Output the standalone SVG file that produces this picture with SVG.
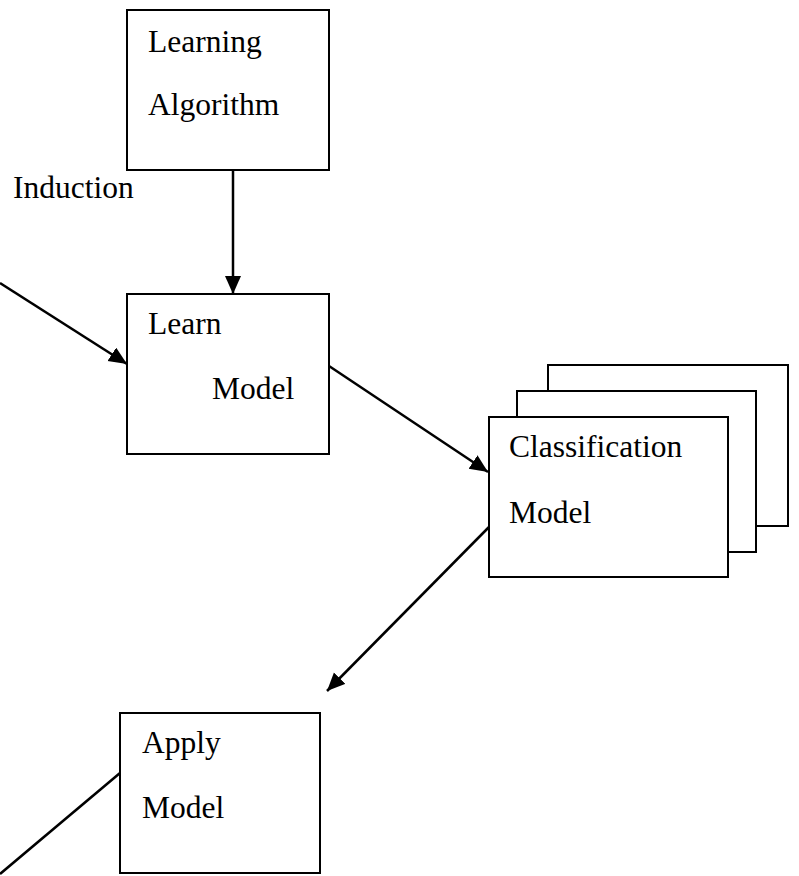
<svg xmlns="http://www.w3.org/2000/svg" width="799" height="876" viewBox="0 0 799 876">
<style>
.box{fill:#fff;stroke:#000;stroke-width:2}
.t{font-family:"Liberation Serif","Times New Roman",serif;font-size:31.5px;fill:#000}
.c{stroke:#000;stroke-width:2.5;fill:none}
</style>
<defs>
<marker id="ah" markerUnits="userSpaceOnUse" markerWidth="19" markerHeight="17" refX="18" refY="8" orient="auto">
<path d="M0,0 L18,8 L0,16 z" fill="#000"/>
</marker>
</defs>
<rect width="799" height="876" fill="#fff"/>
<g id="connectors">
<line class="c" x1="233" y1="170" x2="233" y2="294" marker-end="url(#ah)"/>
<line class="c" x1="0" y1="283" x2="127" y2="364" marker-end="url(#ah)"/>
<line class="c" x1="329" y1="366" x2="488" y2="472" marker-end="url(#ah)"/>
<line class="c" x1="489" y1="527" x2="327" y2="691" marker-end="url(#ah)"/>
<line class="c" x1="0" y1="874" x2="120" y2="773"/>
</g>
<g id="induction-label">
<text class="t" x="13" y="198">Induction</text>
</g>
<g id="learning-algorithm">
<rect class="box" x="127" y="10" width="202" height="160"/>
<text class="t" x="148" y="52">Learning</text>
<text class="t" x="148" y="115">Algorithm</text>
</g>
<g id="learn-model">
<rect class="box" x="127" y="294" width="202" height="160"/>
<text class="t" x="148" y="334">Learn</text>
<text class="t" x="212" y="399">Model</text>
</g>
<g id="classification-model">
<rect class="box" x="548" y="365" width="240" height="161"/>
<rect class="box" x="517" y="391" width="239" height="161"/>
<rect class="box" x="489" y="417" width="239" height="160"/>
<text class="t" x="509" y="457">Classification</text>
<text class="t" x="509" y="523">Model</text>
</g>
<g id="apply-model">
<rect class="box" x="120" y="713" width="200" height="160"/>
<text class="t" x="142" y="753">Apply</text>
<text class="t" x="142" y="818">Model</text>
</g>
</svg>
